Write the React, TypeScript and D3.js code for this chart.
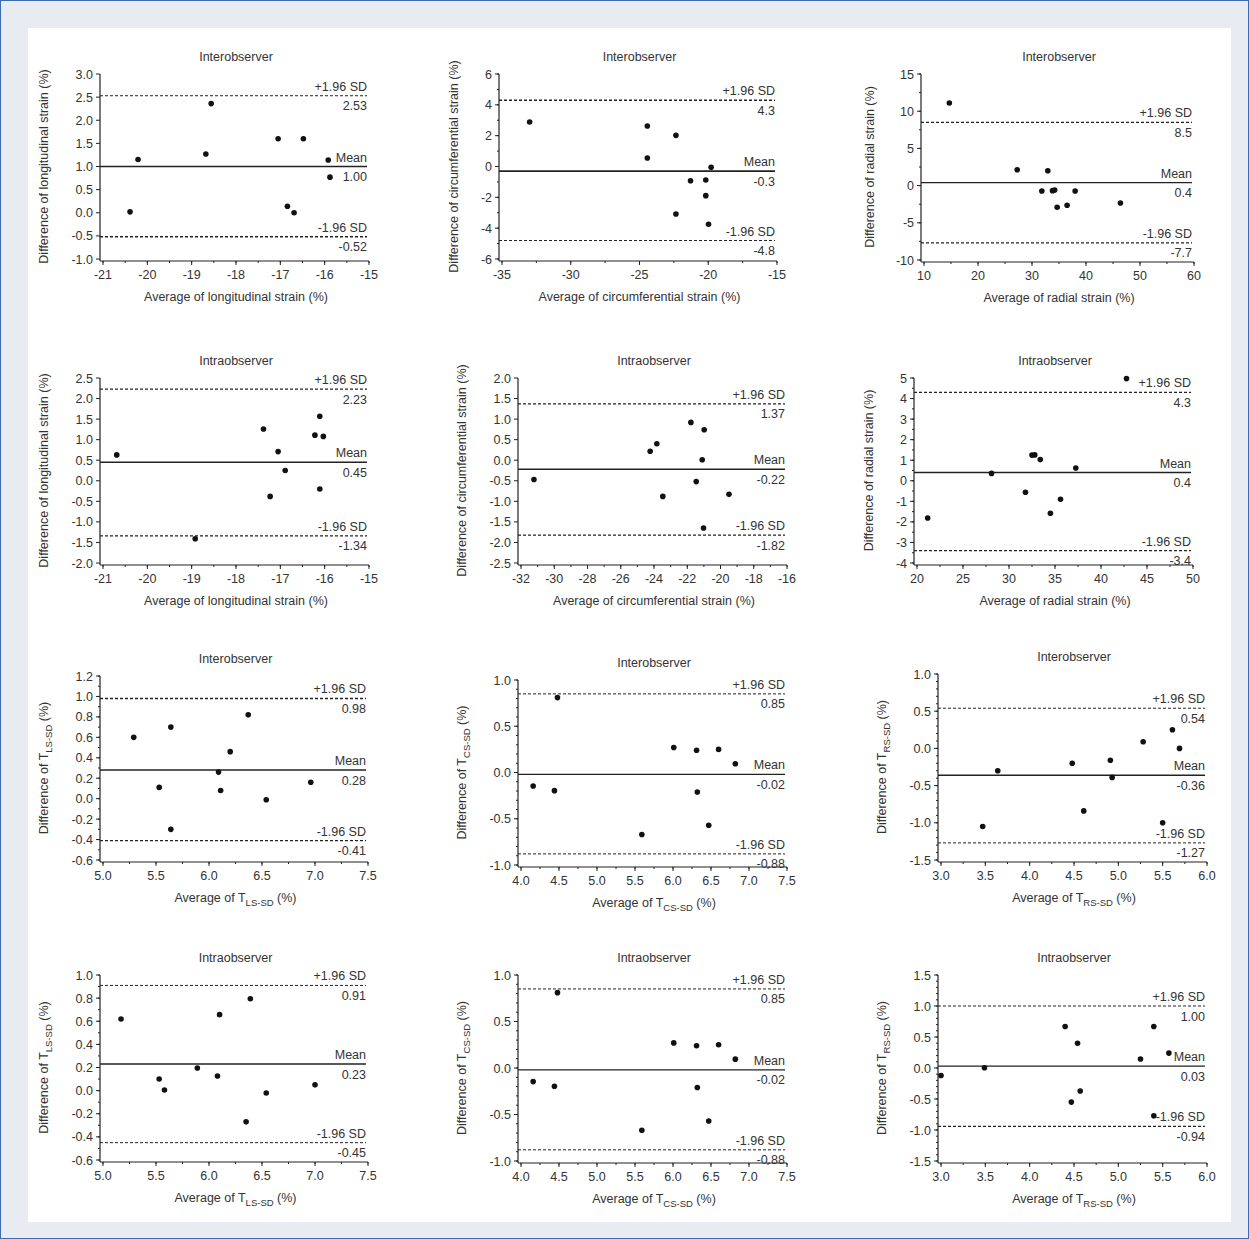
import React from 'react';
import * as d3 from 'd3';

// ---- data (Bland-Altman plots) ----
const titles = ['Interobserver', 'Interobserver', 'Interobserver', 'Intraobserver', 'Intraobserver', 'Intraobserver',
  'Interobserver', 'Interobserver', 'Interobserver', 'Intraobserver', 'Intraobserver', 'Intraobserver'];

const lsInterX = [-20.39, -20.21, -18.56, -18.68, -17.05, -16.48, -15.92, -15.88, -16.84, -16.69];
const lsInterY = [0.02, 1.15, 2.36, 1.27, 1.6, 1.6, 1.14, 0.77, 0.14, 0.0];
const csInterX = [-32.99, -24.43, -24.43, -22.35, -22.35, -21.29, -20.18, -20.18, -19.79, -19.98];
const csInterY = [2.89, 2.63, 0.55, 2.02, -3.08, -0.92, -0.88, -1.89, -0.05, -3.75];
const rsInterX = [14.69, 27.26, 32.93, 31.82, 33.8, 34.2, 34.66, 37.99, 36.5, 46.37];
const rsInterY = [11.1, 2.14, 2.0, -0.73, -0.68, -0.6, -2.92, -0.73, -2.65, -2.34];

const lsIntraX = [-20.69, -18.92, -17.38, -17.23, -17.05, -16.89, -16.22, -16.11, -16.03, -16.11];
const lsIntraY = [0.63, -1.41, 1.26, -0.38, 0.71, 0.25, 1.11, 1.57, 1.08, -0.2];
const csIntraX = [-31.22, -24.23, -23.83, -23.47, -21.78, -20.98, -21.1, -21.46, -19.49, -21.02];
const csIntraY = [-0.47, 0.22, 0.4, -0.88, 0.92, 0.74, 0.01, -0.52, -0.83, -1.65];
const rsIntraX = [21.16, 28.1, 31.79, 32.5, 32.8, 33.4, 34.5, 35.6, 37.26, 42.77];
const rsIntraY = [-1.81, 0.36, -0.56, 1.25, 1.26, 1.03, -1.58, -0.9, 0.62, 4.97];

const tlsInterX = [5.29, 5.64, 5.53, 5.64, 6.09, 6.11, 6.2, 6.37, 6.54, 6.96];
const tlsInterY = [0.6, 0.7, 0.11, -0.3, 0.26, 0.08, 0.46, 0.82, -0.01, 0.16];
const tcsInterX = [4.16, 4.44, 4.48, 5.59, 6.01, 6.31, 6.32, 6.47, 6.6, 6.82];
const tcsInterY = [-0.146, -0.196, 0.81, -0.67, 0.27, 0.24, -0.21, -0.57, 0.25, 0.095];
const trsInterX = [3.47, 3.64, 4.48, 4.61, 4.91, 4.93, 5.28, 5.5, 5.61, 5.69];
const trsInterY = [-1.05, -0.3, -0.2, -0.84, -0.16, -0.39, 0.09, -1.0, 0.25, 0.0];

const tlsIntraX = [5.17, 5.53, 5.58, 5.89, 6.08, 6.1, 6.39, 6.35, 6.54, 7.0];
const tlsIntraY = [0.62, 0.1, 0.005, 0.196, 0.127, 0.657, 0.795, -0.27, -0.02, 0.05];
const tcsIntraX = [4.16, 4.44, 4.48, 5.59, 6.01, 6.31, 6.32, 6.47, 6.6, 6.82];
const tcsIntraY = [-0.146, -0.196, 0.81, -0.67, 0.27, 0.24, -0.21, -0.57, 0.25, 0.095];
const trsIntraX = [3.0, 3.49, 4.4, 4.47, 4.54, 4.57, 5.25, 5.4, 5.4, 5.57];
const trsIntraY = [-0.12, 0.005, 0.67, -0.55, 0.4, -0.37, 0.145, 0.67, -0.77, 0.24];

// [upper limit, mean, lower limit]
const limits = [
  [2.53, 1.0, -0.52], [4.3, -0.3, -4.8], [8.5, 0.4, -7.7],
  [2.23, 0.45, -1.34], [1.37, -0.22, -1.82], [4.3, 0.4, -3.4],
  [0.98, 0.28, -0.41], [0.85, -0.02, -0.88], [0.54, -0.36, -1.27],
  [0.91, 0.23, -0.45], [0.85, -0.02, -0.88], [1.0, 0.03, -0.94],
];
const limitDecimals = [2, 1, 1, 2, 2, 1, 2, 2, 2, 2, 2, 2];

// axis ranges: [min, max, step, minor step]
const xAxes = [
  [-21, -15, 1, 0.5], [-35, -15, 5, 2.5], [10, 60, 10, 5],
  [-21, -15, 1, 0.5], [-32, -16, 2, 1], [20, 50, 5, 2.5],
  [5, 7.5, 0.5, 0.25], [4, 7.5, 0.5, 0.25], [3, 6, 0.5, 0.25],
  [5, 7.5, 0.5, 0.25], [4, 7.5, 0.5, 0.25], [3, 6, 0.5, 0.25],
];
const yAxes = [
  [-1, 3, 0.5, 0], [-6, 6, 2, 1], [-10, 15, 5, 2.5],
  [-2, 2.5, 0.5, 0], [-2.5, 2, 0.5, 0], [-4, 5, 1, 0.5],
  [-0.6, 1.2, 0.2, 0.1], [-1, 1, 0.5, 0.1], [-1.5, 1, 0.5, 0.1],
  [-0.6, 1, 0.2, 0.1], [-1, 1, 0.5, 0.1], [-1.5, 1.5, 0.5, 0.1],
];
const xDecimals = [0, 0, 0, 0, 0, 0, 1, 1, 1, 1, 1, 1];
const yDecimals = [1, 0, 0, 1, 1, 0, 1, 1, 1, 1, 1, 1];

// axis titles: [text before subscript, subscript, text after]
const xTitles = [
  ['Average of longitudinal strain (%)', '', ''], ['Average of circumferential strain (%)', '', ''], ['Average of radial strain (%)', '', ''],
  ['Average of longitudinal strain (%)', '', ''], ['Average of circumferential strain (%)', '', ''], ['Average of radial strain (%)', '', ''],
  ['Average of T', 'LS-SD', ' (%)'], ['Average of T', 'CS-SD', ' (%)'], ['Average of T', 'RS-SD', ' (%)'],
  ['Average of T', 'LS-SD', ' (%)'], ['Average of T', 'CS-SD', ' (%)'], ['Average of T', 'RS-SD', ' (%)'],
];
const yTitles = [
  ['Difference of longitudinal strain (%)', '', ''], ['Difference of circumferential strain (%)', '', ''], ['Difference of radial strain (%)', '', ''],
  ['Difference of longitudinal strain (%)', '', ''], ['Difference of  circumferential strain (%)', '', ''], ['Difference of radial strain (%)', '', ''],
  ['Difference of T', 'LS-SD', ' (%)'], ['Difference of T', 'CS-SD', ' (%)'], ['Difference of T', 'RS-SD', ' (%)'],
  ['Difference of T', 'LS-SD', ' (%)'], ['Difference of T', 'CS-SD', ' (%)'], ['Difference of T', 'RS-SD', ' (%)'],
];

const pointsX = [lsInterX, csInterX, rsInterX, lsIntraX, csIntraX, rsIntraX, tlsInterX, tcsInterX, trsInterX, tlsIntraX, tcsIntraX, trsIntraX];
const pointsY = [lsInterY, csInterY, rsInterY, lsIntraY, csIntraY, rsIntraY, tlsInterY, tcsInterY, trsInterY, tlsIntraY, tcsIntraY, trsIntraY];

// plot boxes in page pixels: x0, x1, y0 (top), y1 (bottom), y-title x
const boxes = [
  [103, 369, 74, 259, 48], [502, 777, 74, 259, 458], [924, 1194, 74, 260, 874],
  [103, 369, 378, 563, 48], [521, 787, 378, 563, 466], [917, 1193, 378, 563, 873],
  [103, 368, 676, 860, 48], [521, 787, 680, 865, 466], [941, 1207, 674, 860, 886],
  [103, 368, 975, 1160, 48], [521, 787, 975, 1161, 466], [941, 1207, 975, 1161, 886],
];
// line weights per panel: [upper, mean, lower]
const weights = [
  [1, 1.6, 1.4], [1.4, 1.6, 1], [1.3, 1.1, 1.4],
  [1.2, 1.5, 1.1], [1.2, 1.6, 1.2], [1.1, 1.6, 1.1],
  [1.3, 1.6, 1.3], [1, 1.1, 1], [1, 1.6, 1],
  [1, 1.6, 1], [1, 1.1, 1], [1, 1.1, 1.2],
];

const FONT = '"Liberation Sans", Arial, Helvetica, sans-serif';
const INK = '#222';
const TXT = '#333';
const FS = 12.5;

const steps = (min: number, max: number, step: number) =>
  step > 0 ? d3.range(0, Math.round((max - min) / step) + 1).map(i => min + i * step) : [];

function Title({ parts, x, y, rotate }: { parts: string[]; x: number; y: number; rotate?: boolean }) {
  return (
    <text x={x} y={y} textAnchor="middle" fontSize={FS} fill={TXT} fontFamily={FONT}
      transform={rotate ? `rotate(-90 ${x} ${y})` : undefined}>
      {parts[0]}
      {parts[1] && <tspan fontSize={9.5} dy={4}>{parts[1]}</tspan>}
      {parts[1] && <tspan dy={-4}>{parts[2]}</tspan>}
    </text>
  );
}

function Panel({ i }: { i: number }) {
  const [x0, x1, y0, y1, yt] = boxes[i];
  const [xmin, xmax, xstep, xminor] = xAxes[i];
  const [ymin, ymax, ystep, yminor] = yAxes[i];
  const x = d3.scaleLinear().domain([xmin, xmax]).range([x0, x1]);
  const y = d3.scaleLinear().domain([ymin, ymax]).range([y1, y0]);
  const axisX = x0 - 3;
  const baseY = y1 + 2;
  const [up, mean, lo] = limits[i];
  const dec = limitDecimals[i];
  const lineEnd = x1 - 2;
  const lines = [
    { v: up, label: '+1.96 SD', dash: '3,2', w: weights[i][0] },
    { v: mean, label: 'Mean', dash: undefined, w: weights[i][1] },
    { v: lo, label: '-1.96 SD', dash: '3,2', w: weights[i][2] },
  ];
  return (
    <g>
      <text x={(x0 + x1) / 2} y={y0 - 13} textAnchor="middle" fontSize={FS} fill={TXT} fontFamily={FONT}>{titles[i]}</text>
      {/* y axis */}
      <line x1={axisX} x2={axisX} y1={y0} y2={baseY} stroke={INK} strokeWidth={1.2} />
      {steps(ymin, ymax, yminor).map((t, k) => (
        <line key={'ym' + k} x1={axisX - 2} x2={axisX} y1={y(t)} y2={y(t)} stroke={INK} />
      ))}
      {steps(ymin, ymax, ystep).map((t, k) => (
        <g key={'y' + k}>
          <line x1={axisX - 4} x2={axisX} y1={y(t)} y2={y(t)} stroke={INK} />
          <text x={axisX - 7} y={y(t) + 4.5} textAnchor="end" fontSize={FS} fill={TXT} fontFamily={FONT}>
            {t.toFixed(yDecimals[i])}
          </text>
        </g>
      ))}
      {/* x axis */}
      <line x1={axisX} x2={x1} y1={baseY} y2={baseY} stroke={INK} strokeWidth={1.2} />
      {steps(xmin, xmax, xminor).map((t, k) => (
        <line key={'xm' + k} x1={x(t)} x2={x(t)} y1={baseY} y2={baseY + 2} stroke={INK} />
      ))}
      {steps(xmin, xmax, xstep).map((t, k) => (
        <g key={'x' + k}>
          <line x1={x(t)} x2={x(t)} y1={baseY} y2={baseY + 4} stroke={INK} />
          <text x={x(t)} y={baseY + 18} textAnchor="middle" fontSize={FS} fill={TXT} fontFamily={FONT}>
            {t.toFixed(xDecimals[i])}
          </text>
        </g>
      ))}
      <Title parts={xTitles[i]} x={(x0 + x1) / 2} y={baseY + 40} />
      <Title parts={yTitles[i]} x={yt} y={(y0 + y1) / 2} rotate />
      {/* limits of agreement */}
      {lines.map((l, k) => (
        <g key={'l' + k}>
          <line x1={axisX} x2={lineEnd} y1={y(l.v)} y2={y(l.v)} stroke={INK} strokeWidth={l.w} strokeDasharray={l.dash} />
          <text x={lineEnd} y={y(l.v) - 5} textAnchor="end" fontSize={FS} fill={TXT} fontFamily={FONT}>{l.label}</text>
          <text x={lineEnd} y={y(l.v) + 14.5} textAnchor="end" fontSize={FS} fill={TXT} fontFamily={FONT}>{l.v.toFixed(dec)}</text>
        </g>
      ))}
      {pointsX[i].map((px, k) => (
        <circle key={'p' + k} cx={x(px)} cy={y(pointsY[i][k])} r={2.8} fill="#111" />
      ))}
    </g>
  );
}

export default function App() {
  const W = 1249;
  const H = 1239;
  return (
    <svg width={W} height={H} style={{ position: 'absolute', left: 0, top: 0 }}>
      <rect x={0.5} y={0.5} width={W - 1} height={H - 1} fill="#e8ebf1" stroke="#3d6bb0" strokeWidth={1} />
      <rect x={28} y={28} width={1203} height={1194} fill="#ffffff" />
      {titles.map((_, i) => <Panel key={i} i={i} />)}
    </svg>
  );
}
